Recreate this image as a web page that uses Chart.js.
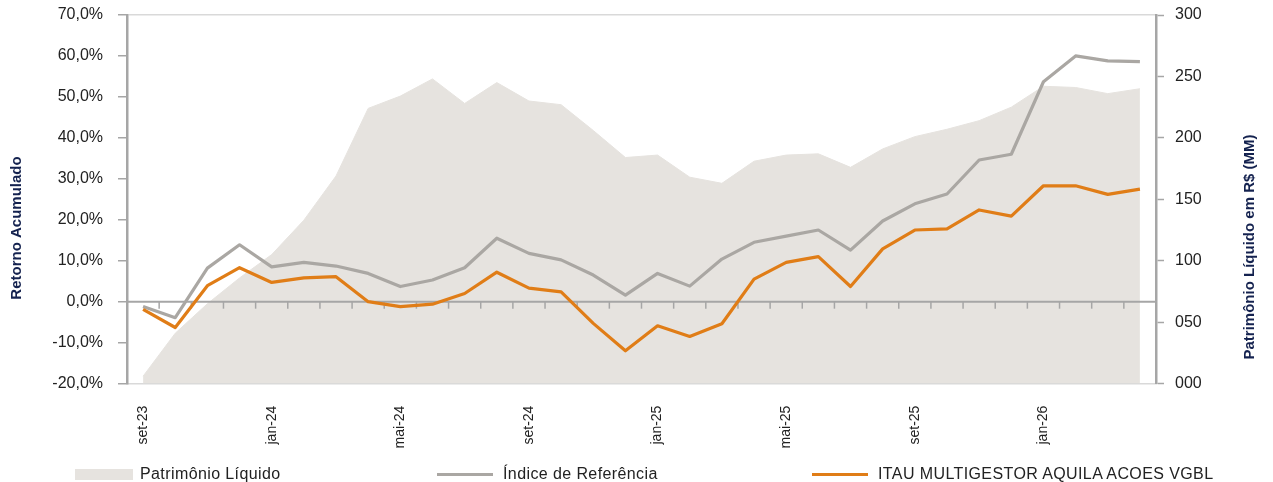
<!DOCTYPE html>
<html lang="pt-BR">
<head>
<meta charset="utf-8">
<title>Retorno Acumulado x Patrimônio Líquido</title>
<script src="https://cdn.jsdelivr.net/npm/chart.js@4.4.1/dist/chart.umd.min.js"></script>
<style>
  html, body { margin: 0; padding: 0; background: #fff; }
  #wrap { position: relative; width: 1273px; height: 482px; overflow: hidden; }
  #grafico { display: block; }
  .legenda { position: absolute; top: 465px; left: 0; width: 1273px; height: 18px;
    font: 16px 'Liberation Sans', Arial, sans-serif; letter-spacing: 0.4px; color: #222; }
  .item { position: absolute; top: 0; height: 18px; display: flex; align-items: center; white-space: nowrap; }
  .caixa { width: 58px; height: 11px; background: #e6e3df; margin-right: 7px; }
  .traco { width: 56px; height: 3px; margin-right: 10px; }
</style>
</head>
<body>
<div id="wrap">
  <canvas id="grafico" width="1273" height="482"></canvas>
  <div class="legenda">
    <div class="item" style="left:75px"><span class="caixa"></span>Patrimônio Líquido</div>
    <div class="item" style="left:437px"><span class="traco" style="background:#aaa7a3"></span>Índice de Referência</div>
    <div class="item" style="left:812px"><span class="traco" style="background:#e07d17"></span>ITAU MULTIGESTOR AQUILA ACOES VGBL</div>
  </div>
</div>
<script>
const MESES = [
  'set-23', 'out-23', 'nov-23', 'dez-23', 'jan-24', 'fev-24', 'mar-24', 'abr-24',
  'mai-24', 'jun-24', 'jul-24', 'ago-24', 'set-24', 'out-24', 'nov-24', 'dez-24',
  'jan-25', 'fev-25', 'mar-25', 'abr-25', 'mai-25', 'jun-25', 'jul-25', 'ago-25',
  'set-25', 'out-25', 'nov-25', 'dez-25', 'jan-26', 'fev-26', 'mar-26', 'abr-26'
];

// Patrimônio Líquido em R$ milhões (eixo direito)
const PATRIMONIO = [
  6, 41, 65, 86, 105, 133, 169, 224, 234, 248, 228, 245, 230, 227, 206, 184,
  186, 168, 163, 181, 186, 187, 176, 191, 201, 207, 214, 225, 242, 241, 236, 240
];

// Retornos acumulados em % (eixo esquerdo)
const INDICE = [
  -1.2, -3.9, 8.2, 13.9, 8.5, 9.6, 8.7, 6.9, 3.7, 5.3, 8.3, 15.5, 11.8, 10.2, 6.5, 1.6,
  6.9, 3.8, 10.4, 14.5, 16.0, 17.5, 12.6, 19.7, 23.9, 26.3, 34.6, 36.0, 53.7, 60.0, 58.8, 58.6
];
const FUNDO = [
  -1.9, -6.3, 3.9, 8.3, 4.7, 5.8, 6.1, 0.0, -1.2, -0.6, 2.0, 7.2, 3.3, 2.4, -5.3, -12.0,
  -5.9, -8.5, -5.4, 5.5, 9.6, 11.0, 3.7, 12.9, 17.5, 17.8, 22.4, 20.9, 28.3, 28.3, 26.2, 27.5
];

const CINZA_EIXO = '#a6a6a6';
const FONTE = "'Liberation Sans', Arial, sans-serif";

Chart.defaults.font.family = FONTE;
Chart.defaults.color = '#222';

// linha do zero com as marcas entre meses, desenhada por cima da área
const linhaZero = {
  id: 'linhaZero',
  afterDatasetDraw(chart, args) {
    if (args.index !== 0) return;
    const { ctx, chartArea, scales: { x, y } } = chart;
    const y0 = y.getPixelForValue(0);
    ctx.save();
    ctx.strokeStyle = CINZA_EIXO;
    ctx.lineWidth = 2;
    ctx.beginPath();
    ctx.moveTo(chartArea.left, y0);
    ctx.lineTo(chartArea.right, y0);
    ctx.stroke();
    ctx.lineWidth = 1.5;
    for (let i = 0; i < MESES.length - 1; i++) {
      const xm = (x.getPixelForValue(i) + x.getPixelForValue(i + 1)) / 2;
      ctx.beginPath();
      ctx.moveTo(xm, y0);
      ctx.lineTo(xm, y0 + 7);
      ctx.stroke();
    }
    ctx.restore();
  }
};

// títulos dos eixos (os dois lidos de baixo para cima)
const titulosEixos = {
  id: 'titulosEixos',
  afterDraw(chart) {
    const { ctx } = chart;
    const titulos = [
      { x: 17, y: 228, texto: 'Retorno Acumulado' },
      { x: 1250, y: 247, texto: 'Patrimônio Líquido em R$ (MM)' }
    ];
    ctx.save();
    ctx.fillStyle = '#14224f';
    ctx.font = 'bold 15px ' + FONTE;
    ctx.textAlign = 'center';
    ctx.textBaseline = 'middle';
    titulos.forEach(t => {
      ctx.save();
      ctx.translate(t.x, t.y);
      ctx.rotate(-Math.PI / 2);
      ctx.fillText(t.texto, 0, 0);
      ctx.restore();
    });
    ctx.restore();
  }
};

// largura fixa dos eixos verticais e sem folga extra no topo
function fixaEixo(largura) {
  return (s) => {
    s.width = largura;
    s.paddingTop = 0;
    s.paddingBottom = 0;
  };
}

const ctx = document.getElementById('grafico').getContext('2d');

new Chart(ctx, {
  type: 'line',
  data: {
    labels: MESES,
    datasets: [
      {
        label: 'Patrimônio Líquido',
        data: PATRIMONIO,
        yAxisID: 'y1',
        fill: 'start',
        backgroundColor: '#e6e3df',
        borderColor: '#e6e3df',
        borderWidth: 1,
        pointRadius: 0,
        tension: 0,
        order: 3
      },
      {
        label: 'Índice de Referência',
        data: INDICE,
        yAxisID: 'y',
        fill: false,
        borderColor: '#aaa7a3',
        borderWidth: 3.2,
        borderJoinStyle: 'round',
        pointRadius: 0,
        tension: 0,
        order: 2
      },
      {
        label: 'ITAU MULTIGESTOR AQUILA ACOES VGBL',
        data: FUNDO,
        yAxisID: 'y',
        fill: false,
        borderColor: '#e07d17',
        borderWidth: 3.2,
        borderJoinStyle: 'round',
        pointRadius: 0,
        tension: 0,
        order: 1
      }
    ]
  },
  options: {
    responsive: false,
    animation: false,
    layout: { padding: { top: 15, left: 0, right: 0, bottom: 0 } },
    plugins: {
      legend: { display: false },
      tooltip: { enabled: false }
    },
    scales: {
      x: {
        type: 'category',
        offset: true,
        grid: { display: false, drawTicks: false },
        border: { display: true, color: '#d9d9d9', width: 1.5 },
        ticks: {
          autoSkip: false,
          minRotation: 90,
          maxRotation: 90,
          padding: 22,
          font: { size: 14 },
          color: '#222',
          callback: (v, i) => (i % 4 === 0 ? MESES[i] : '')
        },
        afterFit: (s) => { s.height = 482 - 383.6; }
      },
      y: {
        position: 'left',
        min: -20,
        max: 70,
        ticks: {
          stepSize: 10,
          padding: 15,
          font: { size: 16 },
          color: '#222',
          callback: (v) => v.toFixed(1).replace('.', ',') + '%'
        },
        grid: {
          color: (c) => (c.tick && c.tick.value === 70 ? '#d9d9d9' : 'transparent'),
          lineWidth: 1.5,
          drawTicks: true,
          tickLength: 9,
          tickColor: CINZA_EIXO,
          tickWidth: 1.5
        },
        border: { color: CINZA_EIXO, width: 2.5 },
        afterFit: fixaEixo(127)
      },
      y1: {
        position: 'right',
        min: 0,
        max: 300,
        ticks: {
          stepSize: 50,
          padding: 11,
          font: { size: 16 },
          color: '#222',
          callback: (v) => String(v).padStart(3, '0')
        },
        grid: {
          drawOnChartArea: false,
          drawTicks: true,
          tickLength: 8,
          tickColor: CINZA_EIXO,
          tickWidth: 1.5
        },
        border: { color: CINZA_EIXO, width: 2.5 },
        afterFit: fixaEixo(117)
      }
    }
  },
  plugins: [linhaZero, titulosEixos]
});
</script>
</body>
</html>
